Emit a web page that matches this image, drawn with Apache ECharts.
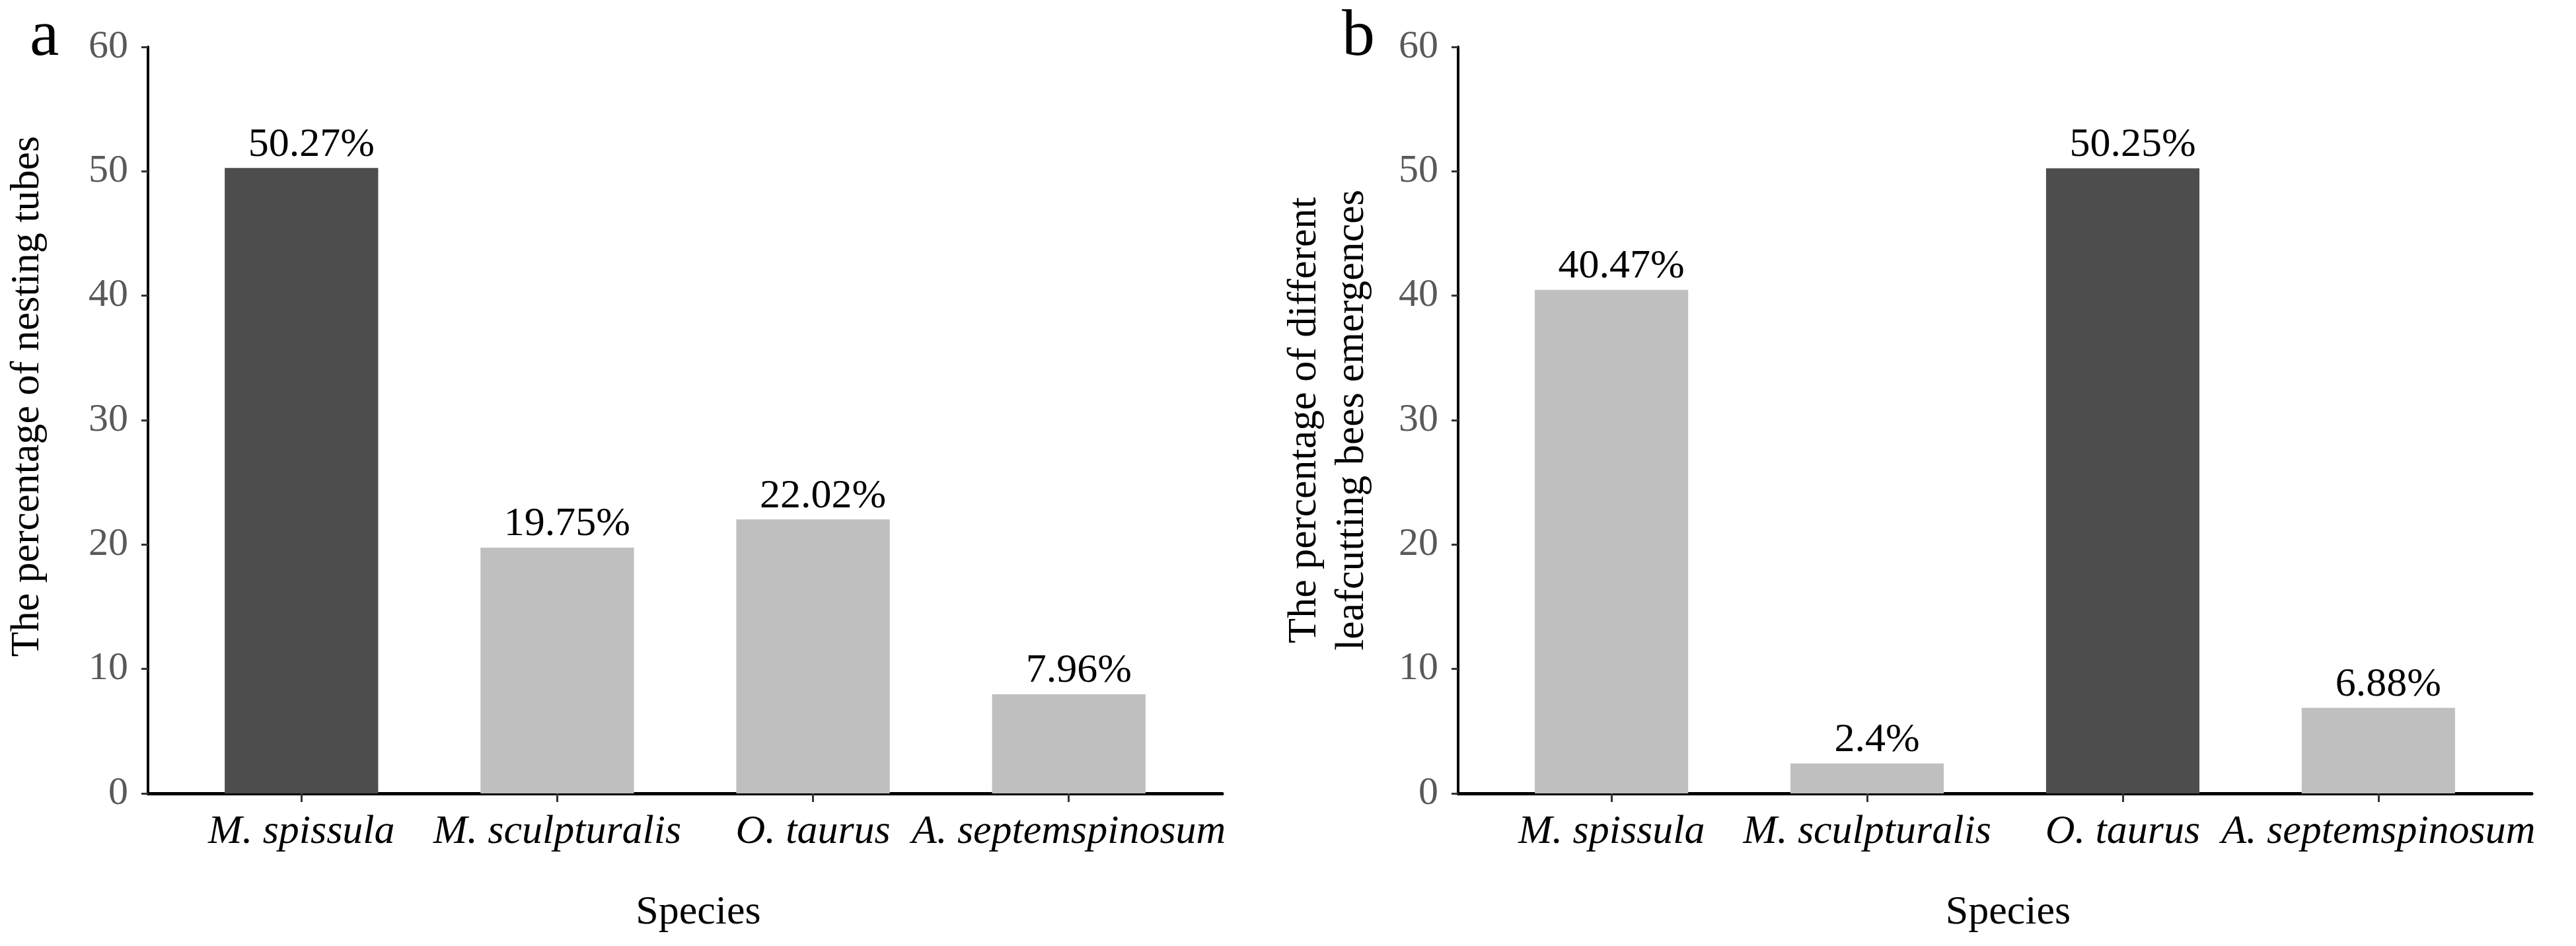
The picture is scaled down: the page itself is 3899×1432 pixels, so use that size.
<!DOCTYPE html>
<html>
<head>
<meta charset="utf-8">
<script src="https://cdn.jsdelivr.net/npm/echarts@6/dist/echarts.min.js"></script>
<style>
  html, body { margin: 0; padding: 0; background: #fff; }
  #main { width: 3899px; height: 1432px; }
</style>
</head>
<body>
<div id="main"></div>
<script>
// data
const species = ['M. spissula', 'M. sculpturalis', 'O. taurus', 'A. septemspinosum'];
const nestingTubes = [50.27, 19.75, 22.02, 7.96];   // panel a
const emergences = [40.47, 2.4, 50.25, 6.88];       // panel b
const highlightA = 0;
const highlightB = 2;
const yMin = 0, yMax = 60, yStep = 10;

const font = 'Liberation Serif';
const dark = '#4d4d4d';
const light = '#bfbfbf';

const chart = echarts.init(document.getElementById('main'));

function xAxisFor(gridIndex) {
  return {
    type: 'value',
    gridIndex: gridIndex,
    min: -0.6,
    max: 3.6,
    splitLine: { show: false },
    axisLine: { show: true, onZero: false, lineStyle: { color: '#000', width: 5 } },
    axisTick: {
      show: true, length: 13, customValues: species.map((s, i) => i),
      lineStyle: { color: '#333', width: 3 }
    },
    axisLabel: {
      customValues: species.map((s, i) => i),
      formatter: v => species[Math.round(v)],
      fontFamily: font, fontStyle: 'italic', fontSize: 62, color: '#000', margin: 28
    },
    name: 'Species',
    nameLocation: 'middle',
    nameGap: 150,
    nameTextStyle: { fontFamily: font, fontSize: 62, color: '#000', padding: [0, 0, 0, 40] }
  };
}

function yAxisFor(gridIndex, name, gap, pad) {
  return {
    type: 'value',
    gridIndex: gridIndex,
    min: yMin, max: yMax, interval: yStep,
    splitLine: { show: false },
    axisLine: { show: true, onZero: false, lineStyle: { color: '#000', width: 4 } },
    axisTick: { show: true, length: 10, lineStyle: { color: '#333', width: 3 } },
    axisLabel: { fontFamily: font, fontSize: 60, color: '#595959', margin: 30 },
    name: name,
    nameLocation: 'middle',
    nameRotate: 90,
    nameGap: gap,
    nameTextStyle: { fontFamily: font, fontSize: 62, color: '#000', lineHeight: 72, padding: pad }
  };
}

function barSeries(idx, values, highlight) {
  return {
    type: 'bar',
    xAxisIndex: idx,
    yAxisIndex: idx,
    barWidth: '60%',
    data: values.map((v, i) => [i, v]),
    itemStyle: { color: p => p.dataIndex === highlight ? dark : light },
    label: {
      show: true, position: 'top', distance: 4, offset: [15, 0],
      formatter: p => p.value[1] + '%',
      fontFamily: font, fontSize: 62, color: '#000'
    }
  };
}

const option = {
  animation: false,
  title: [
    { text: 'a', left: 40, top: 2, textStyle: { fontFamily: font, fontSize: 100, fontWeight: 'normal', color: '#000' } },
    { text: 'b', left: 2026, top: 2, textStyle: { fontFamily: font, fontSize: 100, fontWeight: 'normal', color: '#000' } }
  ],
  grid: [
    { left: 224, right: 2049, top: 71, bottom: 231 },
    { left: 2207, right: 67, top: 71, bottom: 231 }
  ],
  xAxis: [xAxisFor(0), xAxisFor(1)],
  yAxis: [
    yAxisFor(0, 'The percentage of nesting tubes', 146, [0, 0, 0, 72]),
    yAxisFor(1, 'The percentage of different\nleafcutting bees emergences', 124, 0)
  ],
  series: [
    barSeries(0, nestingTubes, highlightA),
    barSeries(1, emergences, highlightB)
  ]
};

chart.setOption(option);
</script>
</body>
</html>
